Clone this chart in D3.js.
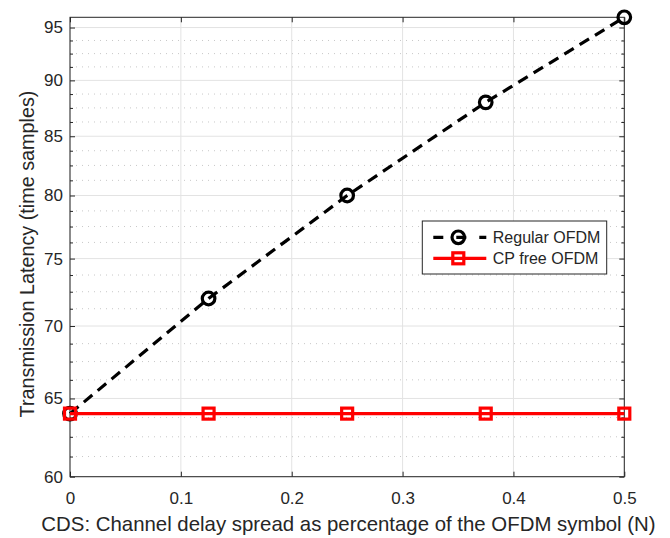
<!DOCTYPE html>
<html>
<head>
<meta charset="utf-8">
<script src="https://cdn.jsdelivr.net/npm/d3@7"></script>
<style>
  body { margin: 0; background: #ffffff; }
  text { font-family: "Liberation Sans", Arial, Helvetica, sans-serif; fill: #262626; }
</style>
</head>
<body>
<svg id="chart" width="670" height="538"></svg>
<script>
// data
const xVals       = [0, 0.125, 0.25, 0.375, 0.5];
const regularOfdm = [64, 72, 80, 88, 96];
const cpFreeOfdm  = [64, 64, 64, 64, 64];
const xTicks      = [0, 0.1, 0.2, 0.3, 0.4, 0.5];
const yTicks      = [60, 65, 70, 75, 80, 85, 90, 95];
const yMinor      = [61.25, 62.5, 63.75, 66.25, 67.5, 68.75, 71.25, 72.5, 73.75,
                     76.25, 77.5, 78.75, 81.25, 82.5, 83.75, 86.25, 87.5, 88.75,
                     91.25, 92.5, 93.75];
const seriesNames = ["Regular OFDM", "CP free OFDM"];

const W = 670, H = 538;
const plotL = 70, plotR = 624.3, plotT = 17.3, plotB = 476.7;
const axCol = "#262626";

const svg = d3.select("#chart");

const x = d3.scaleLinear().domain([0, 0.5]).range([plotL, plotR]);
const y = d3.scaleLog().domain([60, 96]).range([plotB, plotT]);

// grid
const grid = svg.append("g");
grid.selectAll(".gx").data(xTicks).enter().append("line")
  .attr("x1", d => x(d)).attr("x2", d => x(d))
  .attr("y1", plotT).attr("y2", plotB)
  .attr("stroke", "#e3e3e3").attr("stroke-width", 1);
grid.selectAll(".gym").data(yMinor).enter().append("line")
  .attr("x1", plotL).attr("x2", plotR)
  .attr("y1", d => y(d)).attr("y2", d => y(d))
  .attr("stroke", "#c8c8c8").attr("stroke-width", 1)
  .attr("stroke-dasharray", "1,5");
grid.selectAll(".gy").data(yTicks).enter().append("line")
  .attr("x1", plotL).attr("x2", plotR)
  .attr("y1", d => y(d)).attr("y2", d => y(d))
  .attr("stroke", "#e3e3e3").attr("stroke-width", 1);

// axes (ticks inward, box on)
const xAxis = d3.axisBottom(x).tickValues(xTicks).tickSize(-5).tickPadding(15)
  .tickFormat(d => d === 0 ? "0" : d3.format(".1f")(d));
const gx = svg.append("g").attr("transform", `translate(0,${plotB})`).call(xAxis);
const gxTop = svg.append("g").attr("transform", `translate(0,${plotT})`)
  .call(d3.axisTop(x).tickValues(xTicks).tickSize(-5).tickFormat(""));

const yAxis = d3.axisLeft(y).tickValues(yTicks).tickSize(-5).tickPadding(7)
  .tickFormat(d3.format("d"));
const gy = svg.append("g").attr("transform", `translate(${plotL},0)`).call(yAxis);
const gyMinor = svg.append("g").attr("transform", `translate(${plotL},0)`)
  .call(d3.axisLeft(y).tickValues(yMinor).tickSize(-3).tickFormat(""));
const gyR = svg.append("g").attr("transform", `translate(${plotR},0)`)
  .call(d3.axisRight(y).tickValues(yTicks).tickSize(-5).tickFormat(""));
const gyRMinor = svg.append("g").attr("transform", `translate(${plotR},0)`)
  .call(d3.axisRight(y).tickValues(yMinor).tickSize(-3).tickFormat(""));

[gx, gxTop, gy, gyMinor, gyR, gyRMinor].forEach(g => {
  g.select(".domain").remove();
  g.selectAll("line").attr("stroke", axCol);
  g.selectAll("text").attr("fill", axCol).style("font-size", "17px")
    .style("font-family", "'Liberation Sans', Arial, sans-serif");
});

svg.append("rect")
  .attr("x", plotL).attr("y", plotT)
  .attr("width", plotR - plotL).attr("height", plotB - plotT)
  .attr("fill", "none").attr("stroke", axCol).attr("stroke-width", 1);

// series
const regData = xVals.map((d, i) => ({ x: d, y: regularOfdm[i] }));
const cpData  = xVals.map((d, i) => ({ x: d, y: cpFreeOfdm[i] }));
const line = d3.line().x(d => x(d.x)).y(d => y(d.y));

svg.append("path").datum(regData).attr("d", line)
  .attr("fill", "none").attr("stroke", "#000000").attr("stroke-width", 3.2)
  .attr("stroke-dasharray", "11,7");
svg.selectAll(".circ").data(regData).enter().append("circle")
  .attr("cx", d => x(d.x)).attr("cy", d => y(d.y)).attr("r", 6.3)
  .attr("fill", "none").attr("stroke", "#000000").attr("stroke-width", 3.2);

svg.append("path").datum(cpData).attr("d", line)
  .attr("fill", "none").attr("stroke", "#ff0000").attr("stroke-width", 3.2);
svg.selectAll(".sq").data(cpData).enter().append("rect")
  .attr("x", d => x(d.x) - 5.5).attr("y", d => y(d.y) - 5.5)
  .attr("width", 11).attr("height", 11)
  .attr("fill", "none").attr("stroke", "#ff0000").attr("stroke-width", 3.2);

// axis labels
svg.append("text")
  .attr("x", 348.5).attr("y", 531)
  .attr("text-anchor", "middle").style("font-size", "20.4px")
  .text("CDS: Channel delay spread as percentage of the OFDM symbol (N)");
svg.append("text")
  .attr("transform", `translate(34,254) rotate(-90)`)
  .attr("text-anchor", "middle").style("font-size", "19.8px")
  .text("Transmission Latency (time samples)");

// legend
const lg = svg.append("g").attr("transform", "translate(422.3,221)");
lg.append("rect").attr("width", 184.4).attr("height", 53)
  .attr("fill", "#ffffff").attr("stroke", axCol).attr("stroke-width", 1);
const rows = [
  { name: seriesNames[0], col: "#000000", dash: "11,7", mark: "circle" },
  { name: seriesNames[1], col: "#ff0000", dash: null, mark: "square" }
];
rows.forEach((r, i) => {
  const cy = 16.3 + i * 21;
  lg.append("line").attr("x1", 11).attr("x2", 64).attr("y1", cy).attr("y2", cy)
    .attr("stroke", r.col).attr("stroke-width", 3.2)
    .attr("stroke-dasharray", r.dash ? "10,13" : null)
    .attr("stroke-dashoffset", r.dash ? 0 : null);
  if (r.mark === "circle") {
    lg.append("circle").attr("cx", 36).attr("cy", cy).attr("r", 6.3)
      .attr("fill", "none").attr("stroke", r.col).attr("stroke-width", 3.2);
  } else {
    lg.append("rect").attr("x", 30.5).attr("y", cy - 5.5).attr("width", 11).attr("height", 11)
      .attr("fill", "none").attr("stroke", r.col).attr("stroke-width", 3.2);
  }
  lg.append("text").attr("x", 70.5).attr("y", cy + 5.6)
    .style("font-size", "16px").text(r.name);
});
</script>
</body>
</html>
